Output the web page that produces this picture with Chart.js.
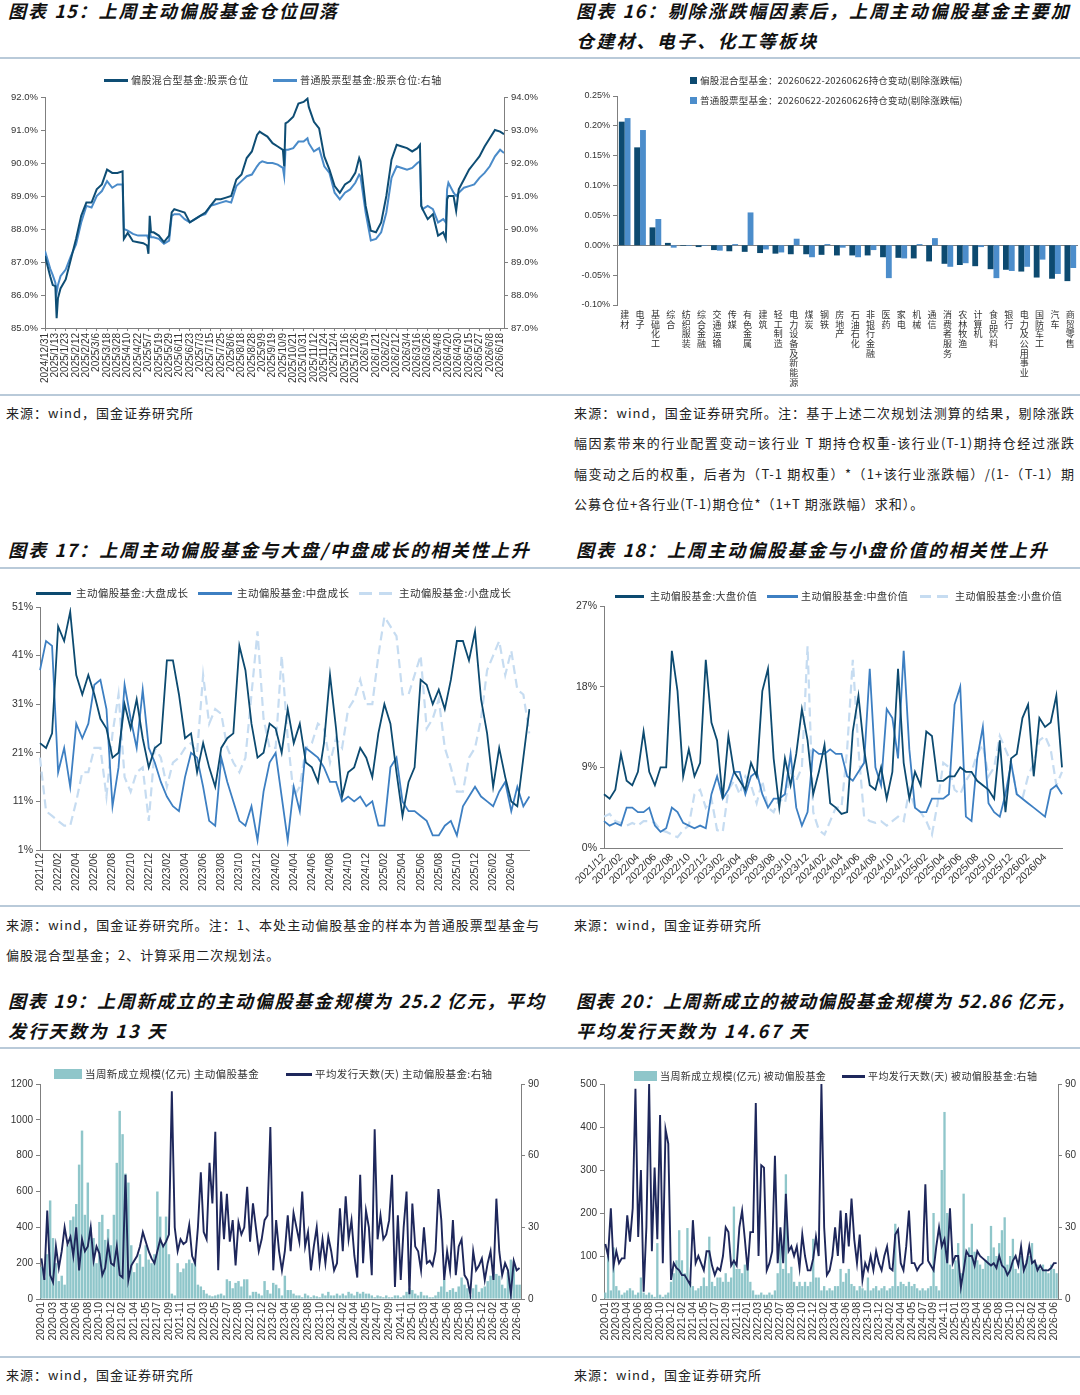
<!DOCTYPE html>
<html><head><meta charset="utf-8">
<script src="https://cdn.jsdelivr.net/npm/chart.js@4.4.1/dist/chart.umd.min.js"></script>
<style>
body{margin:0;background:#fff;}
#page{position:relative;width:1080px;height:1395px;overflow:hidden;font-family:"Noto Sans CJK SC",sans-serif;color:#111;}
.t{position:absolute;font-size:18px;font-weight:bold;font-style:italic;line-height:30px;letter-spacing:1.2px;white-space:nowrap;color:#111;}
.j{text-align:justify;text-align-last:justify;}
.t2{letter-spacing:2.2px;}
.rule{position:absolute;left:0;width:1080px;height:2px;background:#b9cad9;z-index:5;}
.src{position:absolute;font-size:13px;line-height:30px;letter-spacing:1px;color:#222;white-space:nowrap;}
.box{position:absolute;}
.lg{position:absolute;font-size:10px;color:#333;white-space:nowrap;line-height:14px;letter-spacing:0.4px;}
.sw{position:absolute;}
</style></head>
<body><div id="page">

<div class="t j" style="left:8px;top:-5px;width:330px;">图表 15：上周主动偏股基金仓位回落</div>
<div class="t j" style="left:576px;top:-5px;width:494px;">图表 16：剔除涨跌幅因素后，上周主动偏股基金主要加</div>
<div class="t t2" style="left:576px;top:25px;">仓建材、电子、化工等板块</div>
<div class="rule" style="top:57px;"></div>

<div class="box" style="left:0;top:60px;"><canvas id="c15" width="545" height="335"></canvas></div>
<div class="box" style="left:560px;top:60px;"><canvas id="c16" width="520" height="335"></canvas></div>

<div class="sw" style="left:104px;top:79px;width:24px;height:3px;background:#0e4d74;"></div>
<div class="lg" style="left:131px;top:73px;">偏股混合型基金:股票仓位</div>
<div class="sw" style="left:273px;top:79px;width:24px;height:3px;background:#4a8bc9;"></div>
<div class="lg" style="left:300px;top:73px;">普通股票型基金:股票仓位:右轴</div>

<div class="sw" style="left:690px;top:77px;width:7px;height:7px;background:#0d4a70;"></div>
<div class="lg" style="left:700px;top:73px;font-size:9.5px;letter-spacing:0.2px;">偏股混合型基金：20260622-20260626持仓变动(剔除涨跌幅)</div>
<div class="sw" style="left:690px;top:97px;width:7px;height:7px;background:#4c8dcb;"></div>
<div class="lg" style="left:700px;top:93px;font-size:9.5px;letter-spacing:0.2px;">普通股票型基金：20260622-20260626持仓变动(剔除涨跌幅)</div>

<div class="rule" style="top:394px;"></div>
<div class="src" style="left:6px;top:398px;">来源：wind，国金证券研究所</div>
<div class="src j" style="left:574px;top:398px;width:501px;">来源：wind，国金证券研究所。注：基于上述二次规划法测算的结果，剔除涨跌</div>
<div class="src j" style="left:574px;top:428px;width:501px;">幅因素带来的行业配置变动=该行业 T 期持仓权重-该行业(T-1)期持仓经过涨跌</div>
<div class="src j" style="left:574px;top:459px;width:501px;">幅变动之后的权重，后者为（T-1 期权重）*（1+该行业涨跌幅）/(1-（T-1）期</div>
<div class="src" style="left:574px;top:489px;">公募仓位+各行业(T-1)期仓位*（1+T 期涨跌幅）求和）。</div>

<div class="t j" style="left:8px;top:534px;width:522px;">图表 17：上周主动偏股基金与大盘/中盘成长的相关性上升</div>
<div class="t j" style="left:576px;top:534px;width:472px;">图表 18：上周主动偏股基金与小盘价值的相关性上升</div>
<div class="rule" style="top:567px;"></div>

<div class="box" style="left:0;top:570px;"><canvas id="c17" width="545" height="336"></canvas></div>
<div class="box" style="left:560px;top:570px;"><canvas id="c18" width="520" height="336"></canvas></div>

<div class="sw" style="left:36px;top:592px;width:35px;height:3px;background:#0c4a70;"></div>
<div class="lg" style="left:76px;top:586px;font-size:10.5px;">主动偏股基金:大盘成长</div>
<div class="sw" style="left:198px;top:592px;width:34px;height:3px;background:#3d7fc2;"></div>
<div class="lg" style="left:237px;top:586px;font-size:10.5px;">主动偏股基金:中盘成长</div>
<div class="sw" style="left:359px;top:592px;width:35px;height:3px;background:repeating-linear-gradient(to right,#c6dcf1 0 13px,transparent 13px 20px);"></div>
<div class="lg" style="left:399px;top:586px;font-size:10.5px;">主动偏股基金:小盘成长</div>

<div class="sw" style="left:615px;top:595px;width:29px;height:3px;background:#0c4a70;"></div>
<div class="lg" style="left:650px;top:589px;">主动偏股基金:大盘价值</div>
<div class="sw" style="left:767px;top:595px;width:31px;height:3px;background:#3d7fc2;"></div>
<div class="lg" style="left:801px;top:589px;">主动偏股基金:中盘价值</div>
<div class="sw" style="left:920px;top:595px;width:30px;height:3px;background:repeating-linear-gradient(to right,#c6dcf1 0 11px,transparent 11px 17px);"></div>
<div class="lg" style="left:955px;top:589px;">主动偏股基金:小盘价值</div>

<div class="rule" style="top:905px;"></div>
<div class="src j" style="left:6px;top:910px;width:534px;">来源：wind，国金证券研究所。注：1、本处主动偏股基金的样本为普通股票型基金与</div>
<div class="src" style="left:6px;top:940px;">偏股混合型基金；2、计算采用二次规划法。</div>
<div class="src" style="left:574px;top:910px;">来源：wind，国金证券研究所</div>

<div class="t j" style="left:8px;top:985px;width:537px;">图表 19：上周新成立的主动偏股基金规模为 25.2 亿元，平均</div>
<div class="t t2" style="left:8px;top:1015px;">发行天数为 13 天</div>
<div class="t j" style="left:576px;top:985px;width:499px;">图表 20：上周新成立的被动偏股基金规模为 52.86 亿元，</div>
<div class="t t2" style="left:576px;top:1015px;">平均发行天数为 14.67 天</div>
<div class="rule" style="top:1047px;"></div>

<div class="box" style="left:0;top:1050px;"><canvas id="c19" width="545" height="307"></canvas></div>
<div class="box" style="left:560px;top:1050px;"><canvas id="c20" width="520" height="307"></canvas></div>

<div class="sw" style="left:54px;top:1069px;width:28px;height:10px;background:#8fc6ca;"></div>
<div class="lg" style="left:85px;top:1067px;font-size:10.5px;">当周新成立规模(亿元) 主动偏股基金</div>
<div class="sw" style="left:286px;top:1073px;width:26px;height:3px;background:#1e275b;"></div>
<div class="lg" style="left:315px;top:1067px;font-size:10.5px;">平均发行天数(天) 主动偏股基金:右轴</div>

<div class="sw" style="left:634px;top:1071px;width:23px;height:10px;background:#8fc6ca;"></div>
<div class="lg" style="left:660px;top:1069px;font-size:10px;">当周新成立规模(亿元) 被动偏股基金</div>
<div class="sw" style="left:842px;top:1075px;width:23px;height:3px;background:#1e275b;"></div>
<div class="lg" style="left:868px;top:1069px;font-size:10px;">平均发行天数(天) 被动偏股基金:右轴</div>

<div class="rule" style="top:1356px;"></div>
<div class="src" style="left:6px;top:1360px;">来源：wind，国金证券研究所</div>
<div class="src" style="left:574px;top:1360px;">来源：wind，国金证券研究所</div>

</div>
<script>
// ---------------- DATA ----------------
// Chart 15: [trading-day index since 2024/12/31, value]
const ticks15 = ['2024/12/31','2025/1/13','2025/1/23','2025/2/12','2025/2/24','2025/3/6','2025/3/18','2025/3/28','2025/4/10','2025/4/22','2025/5/7','2025/5/19','2025/5/29','2025/6/11','2025/6/23','2025/7/3','2025/7/15','2025/7/25','2025/8/6','2025/8/18','2025/8/28','2025/9/9','2025/9/19','2025/10/9','2025/10/21','2025/10/31','2025/11/12','2025/11/24','2025/12/4','2025/12/16','2025/12/26','2026/1/9','2026/1/21','2026/2/2','2026/2/12','2026/3/4','2026/3/16','2026/3/26','2026/4/8','2026/4/20','2026/4/30','2026/5/15','2026/5/27','2026/6/8','2026/6/18'];
const mix15 = [[0,87.18],[4,86.57],[6,86.3],[8,86.27],[9,85.3],[10,85.9],[12,86.2],[16,86.47],[20,87.08],[24,87.7],[28,88.4],[32,88.8],[36,88.8],[40,89.2],[44,89.35],[48,89.8],[52,89.7],[56,89.7],[60,89.75],[61,87.7],[64,87.88],[68,87.63],[72,87.6],[76,87.57],[79,87.5],[80,87.25],[81,88.4],[82,87.9],[84,87.9],[88,87.8],[92,87.6],[96,87.8],[98,88.5],[100,88.6],[104,88.55],[108,88.5],[112,88.2],[116,88.3],[120,88.4],[124,88.5],[128,88.7],[132,88.9],[136,88.9],[140,88.95],[144,89.0],[148,89.5],[152,89.65],[156,90.15],[160,90.35],[164,90.85],[166,90.95],[168,90.9],[172,90.8],[176,90.6],[180,90.5],[184,90.4],[185,89.9],[186,91.2],[188,91.25],[192,91.4],[196,91.8],[200,91.85],[203,91.95],[204,91.7],[208,91.25],[212,91.05],[216,90.2],[220,89.8],[224,89.3],[228,89.1],[232,89.35],[236,89.45],[240,89.7],[243,90.15],[244,90.05],[248,88.7],[252,87.95],[256,87.9],[260,88.2],[264,89.0],[268,90.1],[272,90.55],[276,90.5],[280,90.45],[284,90.35],[288,90.45],[290,90.55],[291,88.7],[292,88.6],[296,88.3],[300,88.45],[304,87.8],[308,87.9],[310,87.7],[311,88.9],[312,89.0],[316,89.0],[318,88.55],[320,89.2],[324,89.5],[328,89.8],[332,90.0],[336,90.2],[340,90.5],[344,90.75],[348,91.0],[352,90.95],[355,90.87]];
const stock15 = [[0,89.33],[4,88.8],[6,88.6],[8,88.37],[9,88.07],[10,88.3],[12,88.57],[16,88.77],[20,89.18],[24,89.53],[28,90.2],[32,90.7],[36,90.65],[40,91.0],[44,91.15],[48,91.45],[52,91.25],[56,91.35],[60,91.35],[61,90.0],[64,89.95],[68,89.85],[72,89.8],[76,89.8],[79,89.8],[80,89.7],[81,89.9],[82,89.75],[84,89.75],[88,89.7],[92,89.55],[96,89.65],[98,90.4],[100,90.45],[104,90.45],[108,90.3],[112,90.2],[116,90.3],[120,90.4],[124,90.45],[128,90.7],[132,90.75],[136,90.8],[140,90.85],[144,90.8],[148,91.3],[152,91.45],[156,91.6],[160,91.65],[164,91.9],[166,92.0],[168,92.05],[172,92.0],[176,92.0],[180,91.95],[184,91.85],[185,91.6],[186,92.4],[188,92.4],[192,92.45],[196,92.65],[200,92.65],[203,92.75],[204,92.6],[208,92.35],[212,92.45],[216,91.9],[220,91.7],[224,91.1],[228,90.9],[232,91.1],[236,91.2],[240,91.4],[243,91.65],[244,91.6],[248,90.5],[252,89.65],[256,89.7],[260,89.9],[264,90.5],[268,91.55],[272,91.9],[276,91.85],[280,91.8],[284,91.85],[288,92.0],[290,92.05],[291,90.7],[292,90.6],[296,90.7],[300,90.6],[304,90.2],[308,90.3],[310,90.2],[311,91.2],[312,91.4],[316,91.1],[318,91.0],[320,91.1],[324,91.25],[328,91.3],[332,91.35],[336,91.55],[340,91.7],[344,91.9],[348,92.2],[352,92.4],[355,92.3]];

// Chart 16 (%)
const cats16 = ['建材','电子','基础化工','综合','纺织服装','综合金融','交通运输','传媒','有色金属','建筑','轻工制造','电力设备及新能源','煤炭','钢铁','房地产','石油石化','非银行金融','医药','家电','机械','通信','消费者服务','农林牧渔','计算机','食品饮料','银行','电力及公用事业','国防军工','汽车','商贸零售'];
const mixChg16 = [0.207,0.164,0.030,0.004,-0.001,-0.003,-0.008,-0.010,-0.011,-0.013,-0.014,-0.015,-0.015,-0.016,-0.017,-0.017,-0.017,-0.020,-0.021,-0.022,-0.027,-0.031,-0.033,-0.035,-0.040,-0.041,-0.044,-0.054,-0.056,-0.060];
const stockChg16 = [0.213,0.193,0.044,-0.004,-0.001,-0.001,-0.009,0.002,0.055,-0.007,-0.012,0.011,-0.020,0.002,-0.004,-0.020,-0.008,-0.055,-0.022,0.002,0.012,-0.036,-0.030,-0.003,-0.055,-0.043,-0.036,-0.024,-0.048,-0.038];

// Chart 17 (%), one value every 2/3 month from 2021/12
const ticks17 = ['2021/12','2022/02','2022/04','2022/06','2022/08','2022/10','2022/12','2023/02','2023/04','2023/06','2023/08','2023/10','2023/12','2024/02','2024/04','2024/06','2024/08','2024/10','2024/12','2025/02','2025/04','2025/06','2025/08','2025/10','2025/12','2026/02','2026/04'];
const largeGrowth17 = [23,22,25,47,44,50,37,33,37,33,28,26,20,21,31,26,32,24,18,22,23,40,40,33,24,25,17,23,18,14,22,24,25,43,38,27,20,21,27,26,21,30,23,27,19,18,15,23,37,26,12,17,18,22,20,16,25,31,27,17,8,15,18,36,35,31,34,30,36,44,44,40,46,32,25,14,22,16,11,10,20,30];
const midGrowth17 = [38,44,43,17,22,14,27,24,27,35,36,30,10,18,35,28,22,34,22,19,15,12,10,9,16,21,20,14,7,6,20,15,11,7,6,10,3,13,19,21,12,3,14,9,22,21,20,18,15,15,11,12,11,12,10,11,6,6,18,20,11,9,9,8,7,4,4,6,7,4,10,12,14,12,11,10,13,15,9,14,10,12];
const smallGrowth17 = [20,9,8,7,6,6,11,17,17,22,22,12,25,33,16,13,17,18,7,22,20,14,19,20,22,23,21,37,27,30,29,22,19,17,20,33,46,28,22,22,41,24,12,14,22,23,27,26,19,24,22,30,32,36,31,31,41,49,47,45,33,33,37,41,26,28,32,22,18,13,13,20,22,28,38,41,44,37,42,34,33,25];

// Chart 18 (%)
const ticks18 = ticks17;
const largeValue18 = [6.0,5.5,6.5,10.5,7.5,7.0,8.5,13.0,8.5,7.0,9.0,9.0,22.0,17.5,8.0,11.0,8.0,9.5,21.0,14.0,12.0,5.5,12.5,8.5,7.5,6.5,9.5,8.0,17.5,20.0,10.0,4.5,10.0,7.0,10.5,15.5,12.0,6.0,8.5,11.5,5.0,4.5,3.8,4.0,13.0,17.0,11.0,7.0,6.5,9.0,5.5,8.5,20.0,9.5,5.5,8.5,7.0,13.0,12.5,7.5,7.5,8.0,8.0,9.0,8.5,8.5,7.5,7.0,6.5,5.5,12.0,4.0,10.0,10.5,14.5,16.0,8.0,14.5,13.5,14.0,17.0,9.0];
const midValue18 = [3.0,2.5,2.8,2.5,4.5,4.5,4.0,4.0,4.5,2.5,1.8,2.2,4.5,4.0,2.8,2.5,2.2,2.5,2.2,6.0,8.0,5.5,6.5,8.5,8.5,6.0,8.0,8.5,6.0,4.5,5.5,5.5,6.0,10.5,4.5,2.5,4.0,11.0,10.5,10.5,11.0,10.5,10.5,8.0,7.5,8.5,9.5,20.0,9.0,7.0,15.5,14.5,10.0,22.0,11.0,4.5,4.0,4.0,5.5,5.5,5.5,6.0,16.0,18.0,3.5,3.0,10.0,13.5,5.0,4.0,3.5,6.0,9.5,6.0,5.5,5.0,4.5,4.0,3.5,6.5,7.0,6.0];
const smallValue18 = [3.5,3.8,3.0,2.8,2.5,2.8,2.5,3.0,3.0,2.8,2.0,1.8,1.5,1.2,2.0,2.5,6.0,6.5,4.5,5.5,2.0,1.8,6.5,7.5,6.0,8.0,7.0,5.0,7.5,4.5,4.0,5.5,5.0,8.5,7.5,9.0,22.5,4.0,2.0,1.5,3.0,4.5,4.5,11.0,21.0,11.0,3.5,3.0,2.8,3.0,2.5,3.0,3.5,3.0,6.5,4.5,4.0,3.0,1.5,5.0,9.5,9.0,6.5,6.0,7.5,8.5,10.5,11.5,8.0,9.0,12.5,11.0,9.5,6.0,5.5,8.0,9.5,12.0,12.5,11.0,7.0,8.5];

// Chart 19: one value every 2 weeks from 2020-01
const ticks19 = ['2020-01','2020-03','2020-04','2020-06','2020-08','2020-10','2020-12','2021-02','2021-04','2021-05','2021-07','2021-09','2021-11','2022-01','2022-03','2022-05','2022-07','2022-08','2022-10','2022-12','2023-02','2023-04','2023-06','2023-08','2023-10','2023-12','2024-02','2024-04','2024-05','2024-07','2024-09','2024-11','2025-01','2025-03','2025-04','2025-06','2025-08','2025-10','2025-12','2026-02','2026-04','2026-06'];
const activeSize19 = [180,120,250,550,340,200,100,130,80,300,440,460,530,750,940,470,650,400,340,200,430,470,330,390,300,470,760,1050,920,700,650,300,150,200,250,180,300,220,200,250,600,460,300,460,250,30,20,200,150,170,200,220,200,210,80,70,50,30,20,15,20,25,30,20,110,100,60,90,100,70,110,110,20,40,40,30,20,100,50,30,90,80,60,20,130,50,50,30,20,20,10,30,20,10,20,15,10,30,20,40,20,20,30,20,30,20,40,30,20,40,30,40,30,30,20,10,20,15,10,20,10,10,20,20,10,20,40,60,50,30,20,40,20,20,10,10,20,40,70,110,40,50,60,40,70,120,80,60,20,60,80,40,60,70,100,130,150,140,130,80,60,150,220,210,80,80];
const activeDays19 = [17,8,37,10,7,22,13,20,30,23,26,18,30,12,25,20,22,30,16,22,19,10,13,23,15,14,22,10,9,52,8,14,16,18,22,28,24,20,17,15,20,25,22,24,27,87,30,20,25,23,24,31,18,15,30,53,28,25,57,40,70,12,45,25,44,24,33,14,32,27,30,47,24,40,30,20,25,33,35,72,12,33,20,12,20,35,20,36,30,24,45,22,28,12,22,30,15,25,15,26,20,12,15,38,20,43,25,33,18,9,52,15,37,30,10,71,25,35,25,27,33,52,5,35,8,30,45,2,40,22,20,12,30,15,16,14,20,46,33,8,20,12,33,10,22,25,10,8,2,20,12,14,17,8,15,20,8,42,20,10,15,12,2,16,12,13];

// Chart 20
const ticks20 = ticks19;
const passiveSize20 = [15,100,20,120,30,20,10,15,20,25,20,10,15,50,15,10,15,10,5,130,10,5,10,15,40,60,90,160,90,60,165,40,30,20,25,30,50,30,145,40,30,50,50,40,60,40,50,215,70,70,60,80,90,40,20,10,10,15,10,10,15,10,20,60,150,70,290,60,75,40,30,40,30,40,30,40,140,50,50,20,30,20,25,20,30,30,70,40,60,70,35,30,20,30,25,20,50,20,25,30,20,25,30,20,25,30,175,30,40,35,30,40,30,35,25,20,25,20,25,30,200,30,20,300,435,200,80,70,90,130,60,245,100,120,175,110,90,80,70,90,100,170,120,100,130,160,190,80,100,140,70,60,100,80,90,100,130,90,80,70,80,70,60,80,70,60];
const passiveDays20 = [23,18,38,14,20,15,17,17,35,24,38,88,26,54,3,30,90,20,55,25,77,15,71,65,8,15,13,12,10,10,8,6,33,15,18,15,12,20,20,14,10,13,12,18,30,28,14,16,14,30,37,25,12,28,28,82,18,56,55,12,15,20,60,15,30,15,44,20,22,18,22,13,27,18,12,12,17,26,18,90,30,10,12,18,30,18,37,15,36,22,42,25,15,27,8,15,12,18,12,20,15,12,18,22,13,12,27,29,15,12,22,37,15,15,12,14,15,48,16,14,12,22,30,22,25,15,38,15,18,18,5,12,20,18,18,14,20,18,17,16,15,14,15,13,18,14,13,10,12,16,18,14,22,12,15,22,15,16,12,14,12,12,12,13,15,15];

// ---------------- STYLE ----------------
const AX = '#7f7f7f';
const TXT = '#333';
const LAT = '"Liberation Sans", Arial, sans-serif';
const CJK = '"Noto Sans CJK SC", sans-serif';
Chart.defaults.font.family = LAT;
Chart.defaults.color = TXT;
Chart.defaults.animation = false;
const noPlug = {legend:{display:false}, tooltip:{enabled:false}};
const W = w => (s => { s.width = w; });
const H = h => (s => { s.height = h; });

// Chart 15
new Chart(document.getElementById('c15'), {
  type:'line',
  data:{datasets:[
    {data: mix15.map(p=>({x:p[0],y:p[1]})), yAxisID:'y', borderColor:'#0e4d74', borderWidth:2, pointRadius:0, tension:0},
    {data: stock15.map(p=>({x:p[0],y:p[1]})), yAxisID:'y2', borderColor:'#4a8bc9', borderWidth:2, pointRadius:0, tension:0}
  ]},
  options:{responsive:false, plugins:noPlug, layout:{padding:{top:37,left:0,right:0,bottom:0}},
    scales:{
      x:{type:'linear', min:0, max:355,
         afterBuildTicks: s => { s.ticks = ticks15.map((t,i)=>({value:i*8})); },
         ticks:{autoSkip:false, minRotation:90, maxRotation:90, padding:2, font:{size:10}, callback:v=>ticks15[Math.round(v/8)]},
         grid:{display:true, drawOnChartArea:false, tickLength:3, color:AX}, border:{color:AX}, afterFit:H(67)},
      y:{position:'left', min:85, max:92, ticks:{stepSize:1, font:{size:9.5}, callback:v=>v.toFixed(1)+'%'},
         grid:{drawOnChartArea:false, tickLength:4, color:AX}, border:{color:AX}, afterFit:W(45)},
      y2:{position:'right', min:87, max:94, ticks:{stepSize:1, font:{size:9.5}, callback:v=>v.toFixed(1)+'%'},
         grid:{drawOnChartArea:false, tickLength:4, color:AX}, border:{color:AX}, afterFit:W(41)}
    }}
});

// Chart 16
new Chart(document.getElementById('c16'), {
  type:'bar',
  data:{labels: cats16.map(s=>s.split('')), datasets:[
    {data: mixChg16, backgroundColor:'#0d4a70', categoryPercentage:0.76, barPercentage:1},
    {data: stockChg16, backgroundColor:'#4c8dcb', categoryPercentage:0.76, barPercentage:1}
  ]},
  options:{responsive:false, plugins:noPlug, layout:{padding:{top:36,right:2}},
    scales:{
      x:{ticks:{autoSkip:false, minRotation:0, maxRotation:0, padding:5, font:{size:9, family:CJK, lineHeight:1.07}},
         grid:{display:false, drawTicks:false}, border:{display:false}, afterFit:H(90)},
      y:{min:-0.1, max:0.25, ticks:{stepSize:0.05, font:{size:9}, callback:v=>(Math.abs(v)<1e-9?0:v).toFixed(2)+'%'},
         grid:{color:c=>(c.tick && Math.abs(c.tick.value)<1e-9)?AX:'rgba(0,0,0,0)', tickColor:AX, tickLength:4},
         border:{color:AX}, afterFit:W(57)}
    }}
});

function corrChart(id, ticks, series, yMin, yMax, step, rot, yW, padR, xH, padT){
  const n = series[0].length;
  const labels = Array.from({length:n}, (_, i) => i);
  const cols = ['#0c4a70','#3d7fc2','#c6dcf1'];
  new Chart(document.getElementById(id), {
    type:'line',
    data:{labels, datasets: series.map((d,k)=>({
      data:d, borderColor:cols[k], borderWidth:k===2?2.2:1.8, borderDash:k===2?[9,5]:[], pointRadius:0, tension:0, order:k
    }))},
    options:{responsive:false, plugins:noPlug, layout:{padding:{top:padT,right:padR}},
      scales:{
        x:{ticks:{autoSkip:false, minRotation:rot, maxRotation:rot, padding:3, font:{size:10.5},
               callback:(v,i)=> (i%3===0 && ticks[i/3]) ? ticks[i/3] : ''},
           grid:{display:false, drawTicks:false}, border:{color:AX}, afterFit:H(xH)},
        y:{min:yMin, max:yMax, ticks:{stepSize:step, font:{size:10.5}, callback:v=>v+'%'},
           grid:{drawOnChartArea:false, tickLength:4, color:AX}, border:{color:AX}, afterFit:W(yW)}
      }}
  });
}
corrChart('c17', ticks17, [largeGrowth17, midGrowth17, smallGrowth17], 1, 51, 10, 90, 40, 12, 56, 37);
corrChart('c18', ticks18, [largeValue18, midValue18, smallValue18], 0, 27, 9, 45, 44, 18, 58, 36);

function issueChart(id, ticks, sizes, days, yMax, yStep, yW, y2W){
  const labels = sizes.map((_, i) => i);
  new Chart(document.getElementById(id), {
    type:'bar',
    data:{labels, datasets:[
      {type:'line', data:days, yAxisID:'y2', borderColor:'#1e275b', borderWidth:1.9, pointRadius:0, tension:0, order:0},
      {type:'bar', data:sizes, yAxisID:'y', backgroundColor:'#8fc6ca', categoryPercentage:1, barPercentage:0.85, order:1}
    ]},
    options:{responsive:false, plugins:noPlug, layout:{padding:{top:34}},
      scales:{
        x:{ticks:{autoSkip:false, minRotation:90, maxRotation:90, padding:3, font:{size:10.5},
               callback:(v,i)=> (i%4===0 && ticks[i/4]) ? ticks[i/4] : ''},
           grid:{display:false, drawTicks:false}, border:{color:AX}, afterFit:H(58)},
        y:{position:'left', min:0, max:yMax, ticks:{stepSize:yStep, font:{size:10}, callback:v=>String(v)},
           grid:{drawOnChartArea:false, tickLength:4, color:AX}, border:{color:AX}, afterFit:W(yW)},
        y2:{position:'right', min:0, max:90, ticks:{stepSize:30, font:{size:10}, callback:v=>String(v)},
           grid:{drawOnChartArea:false, tickLength:4, color:AX}, border:{color:AX}, afterFit:W(y2W)}
      }}
  });
}
issueChart('c19', ticks19, activeSize19, activeDays19, 1200, 200, 40, 24);
issueChart('c20', ticks20, passiveSize20, passiveDays20, 500, 100, 44, 22);
</script>
</body></html>
